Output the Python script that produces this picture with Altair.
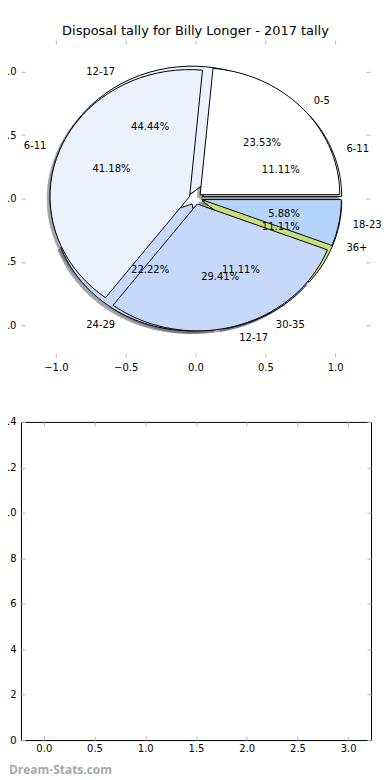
import altair as alt
import pandas as pd

# ---- data ----
pie_a_labels = ["0-5", "6-11", "12-17", "18-23"]
pie_a_values = [4, 7, 5, 1]
pie_b_labels = ["6-11", "12-17", "24-29", "30-35", "36+"]
pie_b_values = [1, 4, 2, 1, 1]
wedge_colors = ["#ffffff", "#ebf1fd", "#c6d9fb", "#b4d4fd", "#c8e07c"]
explode_a = 0.045
explode_b = 0.05

title_text = "Disposal tally for Billy Longer - 2017 tally"
pie_ticks = [-1.0, -0.5, 0.0, 0.5, 1.0]
bar_x_ticks = [0.0, 0.5, 1.0, 1.5, 2.0, 2.5, 3.0]
bar_y_ticks = [0, 2, 4, 6, 8, 10, 12, 14]
watermark = "Dream-Stats.com"

rows = []
for i, (lab, val) in enumerate(zip(pie_b_labels, pie_b_values)):
    rows.append(dict(pie="B", idx=i, label=lab, value=val,
                     color=wedge_colors[i], explode=explode_b))
for i, (lab, val) in enumerate(zip(pie_a_labels, pie_a_values)):
    rows.append(dict(pie="A", idx=i, label=lab, value=val,
                     color=wedge_colors[i], explode=explode_a))
df = pd.DataFrame(rows)

FONT = "DejaVu Sans"
TICK_COLOR = "#b8b8b8"

xs = alt.Scale(domain=[-1.25, 1.25], nice=False, zero=False)
ys = alt.Scale(domain=[-1.25, 1.25], nice=False, zero=False)

base = (
    alt.Chart(df)
    .transform_joinaggregate(total="sum(value)", groupby=["pie"])
    .transform_window(cum="sum(value)", groupby=["pie"], sort=[alt.SortField("idx")])
    .transform_calculate(a1="2*PI*(datum.cum - datum.value)/datum.total")
    .transform_calculate(a2="2*PI*datum.cum/datum.total")
    .transform_calculate(mid="(datum.a1 + datum.a2)/2")
    .transform_calculate(cx="datum.explode*cos(datum.mid)")
    .transform_calculate(cy="datum.explode*sin(datum.mid)")
    .transform_calculate(key="datum.pie + '_' + datum.idx")
)

poly = (
    base.transform_calculate(seq="sequence(0, 43)")
    .transform_flatten(["seq"], as_=["i"])
    .transform_calculate(t="clamp((datum.i - 1)/40, 0, 1)")
    .transform_calculate(ang="datum.a1 + (datum.a2 - datum.a1)*datum.t")
    .transform_calculate(edge="(datum.i > 0 && datum.i < 42) ? 1 : 0")
    .transform_calculate(px="datum.cx + datum.edge*cos(datum.ang)")
    .transform_calculate(py="datum.cy + datum.edge*sin(datum.ang)")
)


def axis_main(orient, values):
    return alt.Axis(orient=orient, values=values, format=".1f", domain=False,
                    grid=False, ticks=True, tickSize=4, offset=-4,
                    tickColor=TICK_COLOR, tickWidth=1, labelPadding=5,
                    labelFontSize=10, labelColor="black", labelFont=FONT,
                    title=None)


def axis_ticks(orient, values):
    return alt.Axis(orient=orient, values=values, domain=False, grid=False,
                    ticks=True, tickSize=4, offset=-4, tickColor=TICK_COLOR,
                    tickWidth=1, labels=False, title=None)


shadow = poly.mark_line(fill="#4d4d4d", stroke="#4d4d4d", strokeWidth=1,
                        opacity=0.5, strokeJoin="miter").encode(
    x=alt.X("sx:Q", scale=xs, axis=axis_main("bottom", pie_ticks)),
    y=alt.Y("sy:Q", scale=ys, axis=axis_main("left", pie_ticks)),
    order=alt.Order("i:Q"),
    detail="key:N",
).transform_calculate(sx="datum.px - 0.02", sy="datum.py - 0.02")

pie_b = poly.transform_filter("datum.pie == 'B'").mark_line(
    stroke="black", strokeWidth=1, strokeJoin="miter").encode(
    x=alt.X("px:Q", scale=xs, axis=axis_ticks("top", pie_ticks)),
    y=alt.Y("py:Q", scale=ys, axis=axis_ticks("right", pie_ticks)),
    order=alt.Order("i:Q"),
    detail="key:N",
    fill=alt.Fill("color:N", scale=None),
)

pie_a = poly.transform_filter("datum.pie == 'A'").mark_line(
    stroke="black", strokeWidth=1, strokeJoin="miter").encode(
    x=alt.X("px:Q", scale=xs, axis=None),
    y=alt.Y("py:Q", scale=ys, axis=None),
    order=alt.Order("i:Q"),
    detail="key:N",
    fill=alt.Fill("color:N", scale=None),
)

labels_pos = (
    base.transform_calculate(lx="datum.cx + 1.1*cos(datum.mid)")
    .transform_calculate(ly="datum.cy + 1.1*sin(datum.mid)")
)
lab_right = labels_pos.transform_filter("datum.lx >= 0").mark_text(
    align="left", baseline="middle", font=FONT, fontSize=10, color="black").encode(
    x=alt.X("lx:Q", scale=xs, axis=None), y=alt.Y("ly:Q", scale=ys, axis=None),
    text="label:N")
lab_left = labels_pos.transform_filter("datum.lx < 0").mark_text(
    align="right", baseline="middle", font=FONT, fontSize=10, color="black").encode(
    x=alt.X("lx:Q", scale=xs, axis=None), y=alt.Y("ly:Q", scale=ys, axis=None),
    text="label:N")

pct = (
    base.transform_calculate(tx="datum.cx + 0.6*cos(datum.mid)")
    .transform_calculate(ty="datum.cy + 0.6*sin(datum.mid)")
    .transform_calculate(ptxt="format(100*datum.value/datum.total, '.2f') + '%'")
    .mark_text(align="center", baseline="middle", font=FONT, fontSize=10, color="black")
    .encode(x=alt.X("tx:Q", scale=xs, axis=None), y=alt.Y("ty:Q", scale=ys, axis=None),
            text="ptxt:N")
)

top = alt.layer(shadow, pie_b, pie_a, pct, lab_right, lab_left).resolve_axis(
    x="independent", y="independent"
).properties(
    width=350, height=318,
    title=alt.TitleParams(title_text, font=FONT, fontSize=13, fontWeight="normal",
                          color="black", anchor="middle", offset=-9,
                          baseline="alphabetic"),
    view=alt.ViewBackground(strokeWidth=0),
)

# ---- lower, empty axes ----
empty = alt.Data(values=[])
bx = alt.Scale(domain=[-0.225, 3.225], nice=False, zero=False)
by = alt.Scale(domain=[0, 14], nice=False)

b_main = alt.Chart(empty).mark_point(opacity=0).encode(
    x=alt.X("bx:Q", scale=bx, axis=alt.Axis(
        orient="bottom", values=bar_x_ticks, format=".1f", domain=False, grid=False,
        tickSize=4, offset=-4, tickColor=TICK_COLOR, labelPadding=3,
        labelFontSize=10, labelColor="black", labelFont=FONT, title=None)),
    y=alt.Y("by:Q", scale=by, axis=alt.Axis(
        orient="left", values=bar_y_ticks, format="d", domain=False, grid=False,
        tickSize=4, offset=-4, tickColor=TICK_COLOR, labelPadding=5,
        labelFontSize=10, labelColor="black", labelFont=FONT, title=None)),
)
b_ticks = alt.Chart(empty).mark_point(opacity=0).encode(
    x=alt.X("bx:Q", scale=bx, axis=axis_ticks("top", bar_x_ticks)),
    y=alt.Y("by:Q", scale=by, axis=axis_ticks("right", bar_y_ticks)),
)
wm = alt.Chart(alt.Data(values=[{"t": watermark}])).mark_text(
    align="left", baseline="middle", font="Open Sans", fontSize=12,
    fontWeight="bold", color="#a8a8a8").encode(
    x=alt.value(-12), y=alt.value(349), text="t:N")

bottom = alt.layer(b_main, b_ticks, wm).resolve_axis(
    x="independent", y="independent"
).properties(
    width=351, height=319,
    view=alt.ViewBackground(stroke="black", strokeWidth=1),
)

chart = alt.vconcat(top, bottom, spacing=65, bounds="flush").properties(
    padding={"left": -17, "top": 16, "right": 0, "bottom": 0},
    background="white",
).configure_view(strokeWidth=0).configure(font=FONT)

chart.save("out.html", embed_options={"renderer": "svg", "actions": False})
